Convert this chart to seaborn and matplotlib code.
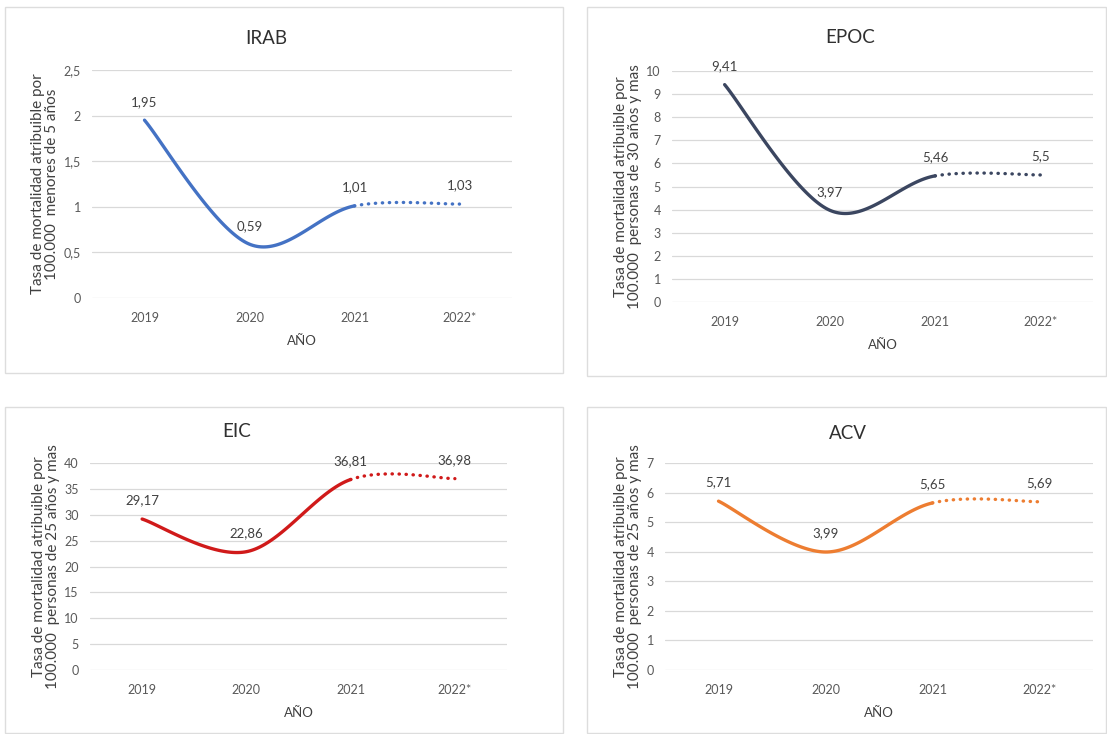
import numpy as np
import pandas as pd
import matplotlib
matplotlib.use("Agg")
import matplotlib.pyplot as plt
from matplotlib.patches import Rectangle
import seaborn as sns

# ---------------- data ----------------
years = ["2019", "2020", "2021", "2022*"]
irab = [1.95, 0.59, 1.01, 1.03]
epoc = [9.41, 3.97, 5.46, 5.5]
eic = [29.17, 22.86, 36.81, 36.98]
acv = [5.71, 3.99, 5.65, 5.69]

titles = ["IRAB", "EPOC", "EIC", "ACV"]
ylabels = [
    "Tasa de mortalidad atribuible por\n100.000  menores de 5 años",
    "Tasa de mortalidad atribuible por\n100.000  personas de 30 años y mas",
    "Tasa de mortalidad atribuible por\n100.000  personas de 25 años y mas",
    "Tasa de mortalidad atribuible por\n100.000  personas de 25 años y mas",
]
yticks_irab = [0, 0.5, 1, 1.5, 2, 2.5]
yticks_epoc = [0, 1, 2, 3, 4, 5, 6, 7, 8, 9, 10]
yticks_eic = [0, 5, 10, 15, 20, 25, 30, 35, 40]
yticks_acv = [0, 1, 2, 3, 4, 5, 6, 7]
xlabel = "AÑO"

colors = ["#4472C4", "#3B4660", "#D01A1A", "#ED7D31"]

# ---------------- layout ----------------
W, H = 1107, 734
sns.set_theme(style="white")
plt.rcParams["font.family"] = ["Lato", "DejaVu Sans"]

fig = plt.figure(figsize=(W / 100, H / 100), dpi=100)

def fx(px):
    return px / W

def fy(py):
    return 1 - py / H

# panel borders (pixel boxes)
panels = [(5, 7, 563, 373), (587, 7, 1106, 376), (5, 407, 563, 733), (587, 407, 1106, 733)]
for (x0, y0, x1, y1) in panels:
    fig.patches.append(Rectangle((fx(x0), fy(y1)), fx(x1 - x0), (y1 - y0) / H,
                                 transform=fig.transFigure, fill=False,
                                 edgecolor="#DDDDDD", linewidth=1.0, zorder=0))

# axes plot areas in pixels (left, top, right, bottom)
areas = [(92, 70, 512, 298), (672, 71, 1093, 302), (90, 463, 507, 670), (665, 463, 1093, 670)]
title_x = [266, 850, 237, 848]
title_pad = [19, 20, 19, 17]


def catmull_bezier(xs, ys, n=60):
    """Excel-like smoothed curve: Bezier segments with Catmull-Rom control points."""
    P = np.column_stack([xs, ys]).astype(float)
    Pext = np.vstack([P[0], P, P[-1]])
    segs = []
    for i in range(len(P) - 1):
        p0, p1, p2, p3 = Pext[i], Pext[i + 1], Pext[i + 2], Pext[i + 3]
        c1 = p1 + (p2 - p0) / 6.0
        c2 = p2 - (p3 - p1) / 6.0
        t = np.linspace(0, 1, n)[:, None]
        b = ((1 - t) ** 3) * p1 + 3 * ((1 - t) ** 2) * t * c1 + 3 * (1 - t) * t ** 2 * c2 + t ** 3 * p2
        segs.append(b)
    return segs


def fmt(v):
    s = f"{v:g}"
    return s.replace(".", ",")


series = [irab, epoc, eic, acv]
yticks_all = [yticks_irab, yticks_epoc, yticks_eic, yticks_acv]

for k in range(4):
    l, t, r, b = areas[k]
    ax = fig.add_axes([fx(l), fy(b), fx(r - l), (b - t) / H])
    vals = series[k]
    xs = np.arange(len(years))
    segs = catmull_bezier(xs, vals)
    solid = np.vstack(segs[:-1])
    dotted = segs[-1]
    df_s = pd.DataFrame({"x": solid[:, 0], "y": solid[:, 1]})
    df_d = pd.DataFrame({"x": dotted[:, 0], "y": dotted[:, 1]})
    sns.lineplot(data=df_s, x="x", y="y", ax=ax, color=colors[k], lw=2.4,
                 sort=False, estimator=None, solid_capstyle="round")
    sns.lineplot(data=df_d, x="x", y="y", ax=ax, color=colors[k], lw=2.4,
                 sort=False, estimator=None, linestyle=(0, (0.1, 2.0)),
                 dash_capstyle="round")

    for xi, v in zip(xs, vals):
        ax.annotate(fmt(v), (xi, v), xytext=(0, 9), textcoords="offset points",
                    ha="center", va="bottom", fontsize=9.5, color="#404040")

    yt = yticks_all[k]
    ax.set_ylim(yt[0], yt[-1])
    ax.set_xlim(-0.5, len(years) - 0.5)
    ax.set_yticks(yt)
    ax.set_yticklabels([fmt(v) for v in yt])
    ax.set_xticks(xs)
    ax.set_xticklabels(years)
    ax.tick_params(axis="both", length=0, labelsize=9, labelcolor="#595959")
    ax.tick_params(axis="y", pad=8)
    ax.tick_params(axis="x", pad=10)
    for yv in yt:
        ax.axhline(yv, color="#D9D9D9", lw=0.9, zorder=0)
    for s in ax.spines.values():
        s.set_visible(False)
    ax.set_xlabel(xlabel, fontsize=9.5, color="#404040", labelpad=8)
    ax.set_ylabel(ylabels[k], fontsize=11, color="#404040", labelpad=3,
                  fontweight="normal", linespacing=1.05)
    ax.set_title(titles[k], fontsize=13.5, color="#303030", pad=title_pad[k],
                 x=(title_x[k] - l) / (r - l))
    ax.set_facecolor("none")

fig.savefig("out.png", dpi=100, facecolor="white")
